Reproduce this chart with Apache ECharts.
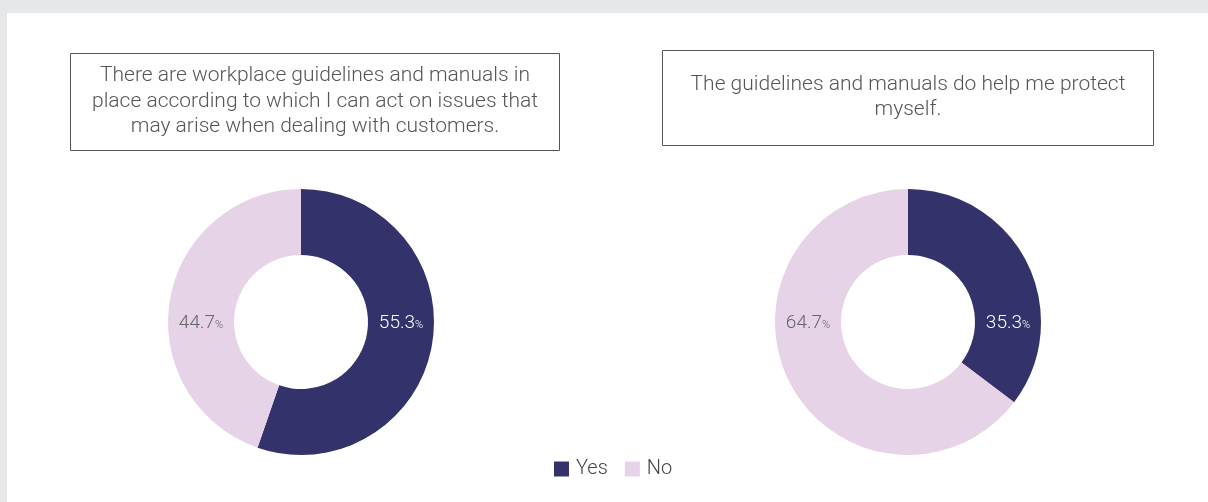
<!DOCTYPE html>
<html>
<head>
<meta charset="utf-8">
<script src="https://cdn.jsdelivr.net/npm/echarts@6/dist/echarts.min.js"></script>
<style>
  html, body { margin: 0; padding: 0; background: #e6e7e9; }
  #bg { position: absolute; left: 7px; top: 13px; right: 0; bottom: 0; background: #fff; }
  #chart { position: absolute; left: 0; top: 0; width: 1208px; height: 502px; }
</style>
</head>
<body>
<div id="bg"></div>
<div id="chart"></div>
<script>
// answers shared by both pies
const categories = ["Yes", "No"];
// share of respondents (%)
const guidelinesInPlace = [55.3, 44.7];
const guidelinesProtect = [35.3, 64.7];
const questions = [
    "There are workplace guidelines and manuals in\nplace according to which I can act on issues that\nmay arise when dealing with customers.",
    "The guidelines and manuals do help me protect\nmyself."
];

const colors = ["#33326b", "#e6d3e8"];
const labelColors = ["#ffffff", "#666666"];
const pieCenters = [[301, 322], [908, 322]];
const rIn = 67, rOut = 133;
const labelFont = "Roboto, sans-serif";

const chart = echarts.init(document.getElementById("chart"));

function pieSeries(values, idx) {
    const c = pieCenters[idx];
    return {
        type: "pie",
        center: c,
        radius: [rIn, rOut],
        startAngle: 90,
        clockwise: true,
        silent: true,
        emphasis: { scale: false },
        data: categories.map(function (name, i) {
            return {
                name: name,
                value: values[i],
                itemStyle: { color: colors[i] },
                label: {
                    rich: {
                        v: { color: labelColors[i], fontSize: 19, fontWeight: 300, fontFamily: labelFont },
                        p: { color: labelColors[i], fontSize: 11, fontWeight: 300, fontFamily: labelFont, padding: [4, 0, 0, 0] }
                    }
                }
            };
        }),
        label: {
            show: true,
            position: "inside",
            formatter: function (p) {
                return "{v|" + p.value.toFixed(1) + "}{p|%}";
            }
        },
        labelLine: { show: false },
        // labels sit on the horizontal through the centre, in the middle of the ring
        labelLayout: function (params) {
            const mid = (rIn + rOut) / 2;
            return {
                x: params.dataIndex === 0 ? c[0] + mid : c[0] - mid,
                y: c[1] + 1,
                align: "center",
                verticalAlign: "middle"
            };
        }
    };
}

const titleText = {
    fontSize: 21,
    fontWeight: 300,
    color: "#555",
    fontFamily: "Roboto, sans-serif"
};

const option = {
    animation: false,
    title: [
        {
            text: questions[0],
            left: 315,
            top: 53,
            textAlign: "center",
            borderColor: "#555",
            borderWidth: 1,
            padding: [10, 0, 11, 0],
            textStyle: Object.assign({ width: 489, lineHeight: 25.5 }, titleText)
        },
        {
            text: questions[1],
            left: 908,
            top: 50,
            textAlign: "center",
            borderColor: "#555",
            borderWidth: 1,
            padding: [22, 0, 24, 0],
            textStyle: Object.assign({ width: 491, lineHeight: 25 }, titleText)
        }
    ],
    legend: {
        data: categories,
        left: 549,
        top: 454,
        itemWidth: 15,
        itemHeight: 15,
        itemGap: 17,
        icon: "rect",
        selectedMode: false,
        textStyle: { fontSize: 20, fontWeight: 300, color: "#444", fontFamily: "Roboto, sans-serif", padding: [0, 0, 0, 2] }
    },
    series: [
        pieSeries(guidelinesInPlace, 0),
        pieSeries(guidelinesProtect, 1)
    ]
};

chart.setOption(option);
</script>
</body>
</html>
